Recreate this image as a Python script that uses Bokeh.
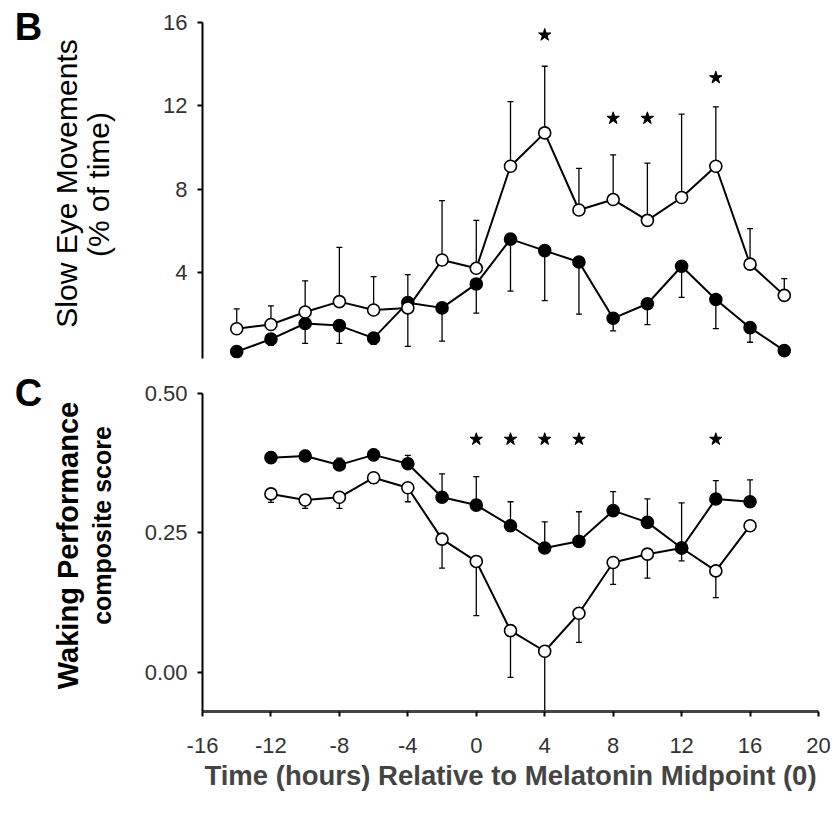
import math
from bokeh.plotting import figure
from bokeh.layouts import column, row
from bokeh.models import Range1d, FixedTicker
from bokeh.core.properties import value
from bokeh.embed import file_html
from bokeh.resources import INLINE

# ---------------- data ----------------
x_ticks = [-16, -12, -8, -4, 0, 4, 8, 12, 16, 20]
x_tick_labels = ["-16", "-12", "-8", "-4", "0", "4", "8", "12", "16", "20"]
x_title = "Time (hours) Relative to Melatonin Midpoint (0)"

# Panel B: slow eye movements (% of time)
b_letter = "B"
b_title_lines = ["Slow Eye Movements", "(% of time)"]
b_ticks = [4, 8, 12, 16]
b_tick_labels = ["4", "8", "12", "16"]
b_hours = [-14, -12, -10, -8, -6, -4, -2, 0, 2, 4, 6, 8, 10, 12, 14, 16, 18]
b_open = [1.3, 1.5, 2.1, 2.6, 2.2, 2.3, 4.6, 4.2, 9.1, 10.7, 7.0, 7.5, 6.5, 7.6, 9.1, 4.4, 2.9]
b_open_err = [0.95, 0.9, 1.5, 2.6, 1.6, 1.6, 2.85, 2.3, 3.1, 3.2, 2.0, 2.15, 2.75, 4.0, 2.85, 1.7, 0.8]
b_filled = [0.2, 0.8, 1.55, 1.45, 0.85, 2.55, 2.3, 3.45, 5.6, 5.05, 4.5, 1.8, 2.5, 4.3, 2.7, 1.35, 0.25]
b_filled_err = [0.1, 0.3, 0.95, 0.85, 0.3, 2.1, 1.6, 1.4, 2.5, 2.4, 2.5, 0.6, 1.0, 1.5, 1.4, 0.7, 0.0]
b_star_hours = [4, 8, 10, 14]
b_star_y = [15.4, 11.4, 11.4, 13.35]

# Panel C: waking performance composite score
c_letter = "C"
c_title_lines = ["Waking Performance", "composite score"]
c_ticks = [0.0, 0.25, 0.5]
c_tick_labels = ["0.00", "0.25", "0.50"]
c_hours = [-12, -10, -8, -6, -4, -2, 0, 2, 4, 6, 8, 10, 12, 14, 16]
c_filled = [0.385, 0.388, 0.372, 0.390, 0.374, 0.314, 0.300, 0.263, 0.223, 0.235, 0.290, 0.269, 0.223, 0.311, 0.306]
c_filled_err = [0.010, 0.010, 0.012, 0.010, 0.015, 0.042, 0.051, 0.043, 0.047, 0.053, 0.034, 0.042, 0.081, 0.033, 0.039]
c_open = [0.320, 0.309, 0.314, 0.349, 0.331, 0.239, 0.199, 0.075, 0.038, 0.106, 0.197, 0.212, 0.223, 0.182, 0.263]
c_open_err = [0.015, 0.015, 0.020, 0.010, 0.025, 0.052, 0.097, 0.084, 0.110, 0.052, 0.039, 0.043, 0.023, 0.048, 0.010]
c_star_hours = [0, 2, 4, 6, 14]
c_star_y = [0.418, 0.418, 0.418, 0.418, 0.418]

FONT = "Liberation Sans"
LEFT_W = 130          # width of the strip holding panel letters and y titles
MAIN_W = 833 - LEFT_W


def style_axis(ax, ticks, labels, standoff=10):
    ax.ticker = FixedTicker(ticks=ticks)
    ax.major_label_overrides = {t: l for t, l in zip(ticks, labels)}
    ax.minor_tick_line_color = None
    ax.major_tick_in = 0
    ax.major_tick_out = 5
    ax.axis_line_width = 2
    ax.axis_line_color = "black"
    ax.major_tick_line_width = 2
    ax.major_label_text_font = FONT
    ax.major_label_text_font_size = "22px"
    ax.major_label_text_color = "#333333"
    ax.major_label_standoff = standoff


def draw_bars(p, x, y, err, up):
    lo = [v if up else v - e for v, e in zip(y, err)]
    hi = [v + e if up else v for v, e in zip(y, err)]
    cap = hi if up else lo
    p.segment(x0=x, y0=lo, x1=x, y1=hi, line_color="black", line_width=1.3)
    p.scatter(x, cap, marker="dash", size=6, line_color="black", line_width=1.3)


def draw_series(p, x, y):
    p.line(x, y, line_color="black", line_width=2)


def draw_markers(p, x, y, filled):
    p.scatter(x, y, size=12, marker="circle",
              fill_color="black" if filled else "white",
              line_color="black", line_width=1.6)


def text_strip(height):
    # pixel-coordinate strip (x to the right, y upward) for labels left of the axes
    s = figure(width=LEFT_W, height=height, x_range=Range1d(0, LEFT_W), y_range=Range1d(0, height),
               x_axis_location=None, y_axis_location=None, output_backend="svg",
               toolbar_location=None, min_border=0, frame_align=False)
    s.outline_line_color = None
    s.grid.visible = False
    return s


def put(s, x, y, txt, size, style="normal", angle=0.0):
    s.text(x=[x], y=[y], text=[txt], angle=angle, text_align="center", text_baseline="middle",
           text_font=value(FONT), text_font_size=value(size), text_font_style=value(style),
           text_color="black")


x_range = Range1d(-16, 20)

# ---------- panel B ----------
HB = 360
pB = figure(width=MAIN_W, height=HB, x_range=x_range, y_range=Range1d(-0.13, 16),
            x_axis_location=None, output_backend="svg", toolbar_location=None, frame_align=False,
            min_border_left=202 - LEFT_W, min_border_right=15, min_border_top=22, min_border_bottom=2)
pB.outline_line_color = None
pB.grid.visible = False
style_axis(pB.yaxis[0], b_ticks, b_tick_labels)

draw_bars(pB, b_hours, b_open, b_open_err, True)
draw_bars(pB, b_hours, b_filled, b_filled_err, False)
draw_series(pB, b_hours, b_open)
draw_series(pB, b_hours, b_filled)
draw_markers(pB, b_hours, b_filled, True)
draw_markers(pB, b_hours, b_open, False)
pB.scatter(b_star_hours, b_star_y, marker="star", size=13, fill_color="black", line_color="black")

sB = text_strip(HB)
put(sB, 28, HB - 26, b_letter, "38px", "bold")
put(sB, 66, HB - 183, b_title_lines[0], "30px", "normal", math.pi / 2)
put(sB, 98, HB - 184, b_title_lines[1], "30px", "normal", math.pi / 2)

# ---------- panel C ----------
HC = 815 - HB
pC = figure(width=MAIN_W, height=HC, x_range=x_range, y_range=Range1d(-0.070, 0.5),
            output_backend="svg", toolbar_location=None, frame_align=False,
            min_border_left=202 - LEFT_W, min_border_right=15, min_border_top=33, min_border_bottom=104)
pC.outline_line_color = None
pC.grid.visible = False
style_axis(pC.yaxis[0], c_ticks, c_tick_labels)
style_axis(pC.xaxis[0], x_ticks, x_tick_labels, standoff=21)
pC.xaxis.axis_line_color = "#444444"
pC.xaxis.axis_line_width = 3
pC.xaxis.axis_label = x_title
pC.xaxis.axis_label_text_font = FONT
pC.xaxis.axis_label_text_font_size = "27.5px"
pC.xaxis.axis_label_text_font_style = "bold"
pC.xaxis.axis_label_standoff = 4

draw_bars(pC, c_hours, c_filled, c_filled_err, True)
draw_bars(pC, c_hours, c_open, c_open_err, False)
draw_series(pC, c_hours, c_filled)
draw_series(pC, c_hours, c_open)
draw_markers(pC, c_hours, c_open, False)
draw_markers(pC, c_hours, c_filled, True)
pC.scatter(c_star_hours, c_star_y, marker="star", size=13, fill_color="black", line_color="black")

sC = text_strip(HC)
put(sC, 28, 815 - 392, c_letter, "38px", "bold")
put(sC, 67, 815 - 545, c_title_lines[0], "29px", "bold", math.pi / 2)
put(sC, 101, 815 - 525, c_title_lines[1], "25px", "bold", math.pi / 2)

layout = column(row(sB, pB, spacing=0), row(sC, pC, spacing=0), spacing=0)
open("out.html", "w").write(file_html(layout, INLINE))
